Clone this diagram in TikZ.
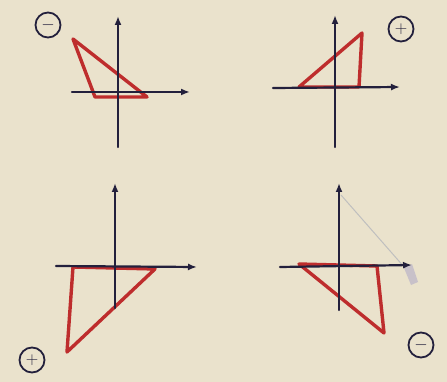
\documentclass[tikz,border=0pt]{standalone}
\usetikzlibrary{arrows.meta}
\definecolor{paper}{RGB}{234,226,204}
\definecolor{ink}{RGB}{35,32,60}
\definecolor{redink}{RGB}{190,45,45}
\begin{document}
\begin{tikzpicture}[x=1pt,y=-1pt,
  axis/.style={draw=ink,line width=2.2pt,line cap=round,-{Latex[length=9pt,width=7pt]}},
  tri/.style={draw=redink,line width=3.4pt,line join=round,line cap=round},
  sign/.style={circle,draw=ink,line width=1.8pt,minimum size=25pt,inner sep=0pt,text=ink,font=\sffamily\fontsize{16}{16}\selectfont}]
\fill[paper] (0,0) rectangle (447,382);
\useasboundingbox (0,0) rectangle (447,382);
% panel 1
\coordinate (a1b) at (118,147); \coordinate (a1t) at (118,16);
\coordinate (a1l) at (72,92); \coordinate (a1r) at (190,92);
\draw[tri] (73,39) -- (95,97) -- (147,97) -- cycle;
\draw[axis] (a1b) -- (a1t);
\draw[axis] (a1l) -- (a1r);
\node[sign] (s1) at (48,25) {$-$};
% panel 2
\coordinate (a2b) at (335,147); \coordinate (a2t) at (335,15);
\coordinate (a2l) at (273,88); \coordinate (a2r) at (400,87);
\draw[tri] (299,87) -- (362,33) -- (359,87) -- cycle;
\draw[axis] (a2b) -- (a2t);
\draw[axis] (a2l) -- (a2r);
\node[sign] (s2) at (401,29) {$+$};
% panel 3
\coordinate (a3b) at (115,308); \coordinate (a3t) at (115,183);
\coordinate (a3l) at (56,266); \coordinate (a3r) at (197,267);
\draw[tri] (73,267) -- (155,269) -- (67,352) -- cycle;
\draw[axis] (a3b) -- (a3t);
\draw[axis] (a3l) -- (a3r);
\node[sign] (s3) at (32,360) {$+$};
% panel 4
\coordinate (a4b) at (339,310); \coordinate (a4t) at (339,183);
\coordinate (a4l) at (280,267); \coordinate (a4r) at (412,265);
\draw[gray!50,line width=1pt] (341,195) -- (405,268);
\fill[blue!50!gray,opacity=0.2] (404,268) -- (412,264) -- (418,282) -- (411,285) -- cycle;
\draw[tri] (299,264) -- (377,266) -- (384,333) -- cycle;
\draw[axis] (a4b) -- (a4t);
\draw[axis] (a4l) -- (a4r);
\node[sign] (s4) at (421,345) {$-$};
\end{tikzpicture}
\end{document}
